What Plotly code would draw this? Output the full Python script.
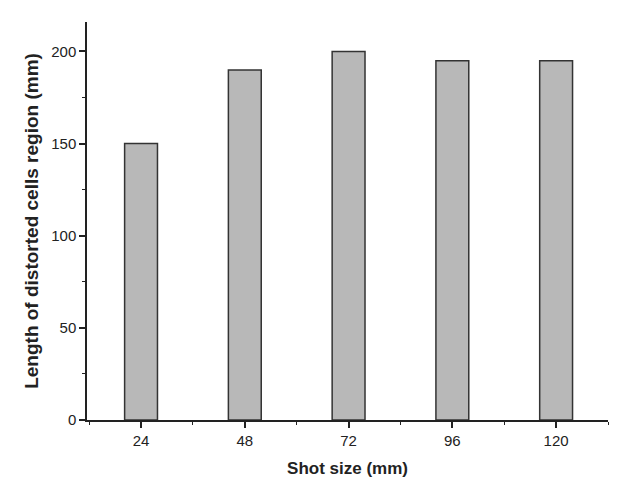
import plotly.graph_objects as go

shot_size = [24, 48, 72, 96, 120]
lengths = [150, 190, 200, 195, 195]
x_ticks = [24, 48, 72, 96, 120]
y_ticks = [0, 50, 100, 150, 200]

fig = go.Figure()
fig.add_trace(go.Bar(
    x=shot_size, y=lengths, width=7.6,
    marker=dict(color="#b8b8b8", line=dict(color="#333333", width=1.5)),
))

font_family = "Liberation Sans, Arial, sans-serif"
fig.update_layout(
    width=618, height=479,
    margin=dict(l=79, r=18, t=14, b=64),
    plot_bgcolor="white", paper_bgcolor="white",
    showlegend=False,
    font=dict(family=font_family, color="#222222", size=15),
    xaxis=dict(
        range=[11.5, 132], tickvals=x_ticks, ticktext=[str(v) for v in x_ticks],
        showline=True, linecolor="#222222", linewidth=1.5,
        ticks="outside", ticklen=6, tickwidth=1.5, tickcolor="#222222",
        minor=dict(tickvals=[12, 36, 60, 84, 108, 132], ticks="outside", ticklen=3, tickwidth=1.2, tickcolor="#222222"),
        showgrid=False, zeroline=False,
        title=dict(text="<b>Shot size (mm)</b>", font=dict(size=17, family=font_family), standoff=14),
        tickfont=dict(size=15),
    ),
    yaxis=dict(
        range=[0, 216], tickvals=y_ticks,
        showline=True, linecolor="#222222", linewidth=1.5,
        ticks="outside", ticklen=6, tickwidth=1.5, tickcolor="#222222",
        minor=dict(tickvals=[25, 75, 125, 175], ticks="outside", ticklen=3, tickwidth=1.2, tickcolor="#222222"),
        showgrid=False, zeroline=False,
        title=dict(text="<b>Length of distorted cells region (mm)</b>", font=dict(size=19, family=font_family), standoff=8),
        tickfont=dict(size=15),
    ),
)

fig.write_html("out.html")
